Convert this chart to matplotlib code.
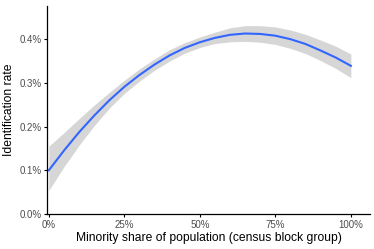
import numpy as np
import matplotlib
matplotlib.use("Agg")
import matplotlib.pyplot as plt
from matplotlib.ticker import FuncFormatter

# valores (proporcion minoritaria, tasa en %)
minority_share = [0.00, 0.05, 0.10, 0.15, 0.20, 0.25, 0.30, 0.35, 0.40, 0.45, 0.50,
                  0.55, 0.60, 0.65, 0.70, 0.75, 0.80, 0.85, 0.90, 0.95, 1.00]
id_rate = [0.100, 0.145, 0.187, 0.225, 0.260, 0.291, 0.318, 0.342, 0.363, 0.380, 0.393,
           0.403, 0.410, 0.413, 0.412, 0.408, 0.400, 0.389, 0.374, 0.358, 0.339]
ci_low = [0.054, 0.108, 0.157, 0.202, 0.242, 0.276, 0.304, 0.329, 0.350, 0.368, 0.381,
          0.390, 0.394, 0.395, 0.393, 0.388, 0.379, 0.367, 0.351, 0.333, 0.312]
ci_high = [0.155, 0.186, 0.218, 0.249, 0.278, 0.306, 0.332, 0.355, 0.376, 0.392, 0.405,
           0.416, 0.426, 0.431, 0.431, 0.428, 0.421, 0.411, 0.398, 0.384, 0.366]

x_ticks = [0, 0.25, 0.5, 0.75, 1.0]
y_ticks = [0.0, 0.1, 0.2, 0.3, 0.4]

plt.rcParams["font.family"] = ["Liberation Sans", "DejaVu Sans"]

fig = plt.figure(figsize=(3.74, 2.49), dpi=100)
ax = fig.add_axes([0.1257, 0.1406, 0.8633, 0.8354])

ax.fill_between(minority_share, ci_low, ci_high, color="#d6d6d6", linewidth=0)
ax.plot(minority_share, id_rate, color="#3366FF", linewidth=1.5, solid_joinstyle="round")

ax.set_xlim(-0.006, 1.063)
ax.set_ylim(0, 0.476)
ax.set_xticks(x_ticks)
ax.set_yticks(y_ticks)
ax.xaxis.set_major_formatter(FuncFormatter(lambda v, p: f"{v*100:.0f}%"))
ax.yaxis.set_major_formatter(FuncFormatter(lambda v, p: f"{v:.1f}%"))

for lado in ["top", "right"]:
    ax.spines[lado].set_visible(False)
for lado in ["left", "bottom"]:
    ax.spines[lado].set_linewidth(0.9)
ax.tick_params(length=2.5, width=0.8, labelsize=7, colors="black", pad=1.5)
for lab in ax.get_xticklabels() + ax.get_yticklabels():
    lab.set_color("#4d4d4d")

ax.set_xlabel("Minority share of population (census block group)", fontsize=8.7, labelpad=1.5)
ax.set_ylabel("Identification rate", fontsize=8.7, labelpad=3)

fig.savefig("out.png", dpi=100)
